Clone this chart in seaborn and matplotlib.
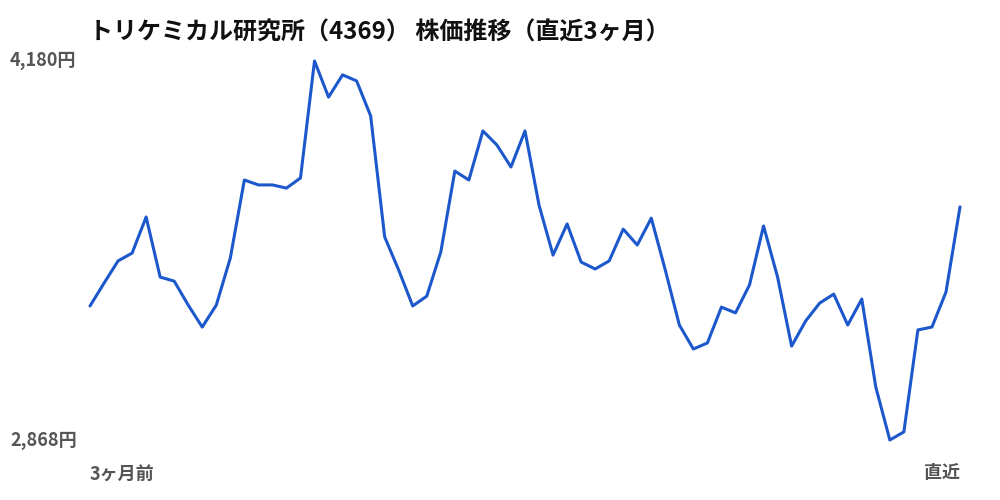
import numpy as np
import pandas as pd
import matplotlib
matplotlib.use("Agg")
import matplotlib.pyplot as plt
import seaborn as sns

# Stock price over the last 3 months
prices = [
    3332, 3411, 3488, 3515, 3640, 3432, 3418, 3335, 3259, 3335,
    3498, 3768, 3751, 3751, 3740, 3775, 4180, 4055, 4132, 4111,
    3990, 3571, 3456, 3332, 3366, 3519, 3799, 3768, 3938, 3889,
    3813, 3938, 3681, 3508, 3616, 3484, 3460, 3488, 3598, 3543,
    3636, 3456, 3266, 3183, 3204, 3328, 3308, 3405, 3609, 3432,
    3193, 3280, 3342, 3373, 3266, 3356, 3051, 2868, 2896, 3249,
    3259, 3380, 3675,
]
title = "トリケミカル研究所（4369） 株価推移（直近3ヶ月）"
x_labels = ["3ヶ月前", "直近"]

sns.set_style("white")
plt.rcParams["font.family"] = ["Noto Sans CJK JP", "DejaVu Sans"]

df = pd.DataFrame({"day": np.arange(len(prices)), "price": prices})
lo, hi = min(prices), max(prices)

fig = plt.figure(figsize=(10, 5), dpi=100)
ax = fig.add_axes([0.09, 0.12, 0.87, 0.758])

sns.lineplot(data=df, x="day", y="price", ax=ax, color="#1c58cc",
             linewidth=2.2, clip_on=False)

ax.set_xlim(df["day"].min(), df["day"].max())
ax.set_ylim(lo, hi)
ax.set_axis_off()

# y labels: only max and min
for val in (hi, lo):
    y_fig = ax.transData.transform((0, val))[1] / fig.bbox.height
    fig.text(0.01, y_fig, f"{val:,}円", ha="left", va="center",
             fontsize=13, fontweight="bold", color="#555555")

fig.text(0.09, 0.05, x_labels[0], ha="left", va="center",
         fontsize=13, fontweight="bold", color="#555555")
fig.text(0.96, 0.054, x_labels[1], ha="right", va="center",
         fontsize=13, fontweight="bold", color="#555555")

fig.text(0.089, 0.934, title, ha="left", va="center",
         fontsize=17.3, fontweight="bold", color="#111111")

fig.savefig("out.png", dpi=100)
